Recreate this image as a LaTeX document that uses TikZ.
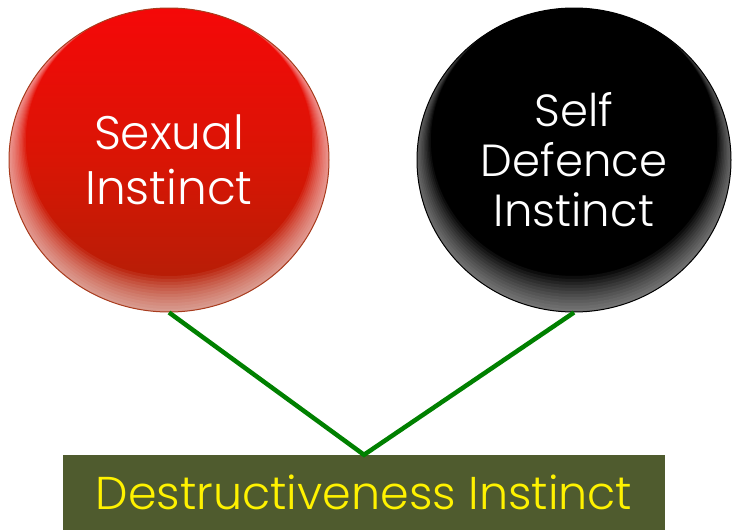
\documentclass[tikz,border=0pt]{standalone}
\usepackage{fontspec}
\setmainfont{Poppins}[UprightFont=* Light]
\usetikzlibrary{shapes.geometric}

\definecolor{redtop}{HTML}{F50808}
\definecolor{redmid}{HTML}{D91505}
\definecolor{redbot}{HTML}{AE2006}
\definecolor{redrim}{HTML}{A83C1E}
\definecolor{olivebox}{HTML}{4F5B2E}
\definecolor{linkgreen}{HTML}{008000}

\begin{document}
\begin{tikzpicture}[
                x=1pt, y=-1pt,
                ball/.style={ellipse, inner sep=0pt, minimum width=#1, minimum height=304pt, align=center, text=white},
                % light rim, thicker at the bottom of the ball
                rim/.style={path picture={
                        \foreach \k in {1,...,12}
                            \fill[white, opacity=#1, even odd rule]
                                (path picture bounding box.center) ellipse [x radius=200pt, y radius=200pt]
                                ([yshift=\k*1.6pt]path picture bounding box.center) ellipse [x radius=160pt-\k*1.4pt, y radius=152pt-\k*1.4pt];
                    }},
                redball/.style={ball=320pt, draw=redrim, line width=1pt, top color=redtop, bottom color=redbot, middle color=redmid,
                        rim=0.065, font=\fontsize{47}{55}\selectfont},
                blackball/.style={ball=314pt, draw=black, line width=1pt, fill=black,
                        rim=0.05, font=\fontsize{45}{50}\selectfont},
                target/.style={rectangle, fill=olivebox, text=yellow, minimum width=602pt, minimum height=75pt,
                        font=\fontsize{46}{50}\selectfont},
                link/.style={draw=linkgreen, line width=4.5pt}
            ]
            \useasboundingbox (0,0) rectangle (732,530);

            \node[redball] (sexual) at (169,160) {Sexual\\Instinct};
            \node[blackball] (defence) at (574,160) {Self\\Defence\\Instinct};
            \node[target] (destructive) at (364,492.5) {Destructiveness Instinct};

            \draw[link] (sexual.south) -- (destructive.north) -- (defence.south);
        \end{tikzpicture}
\end{document}
